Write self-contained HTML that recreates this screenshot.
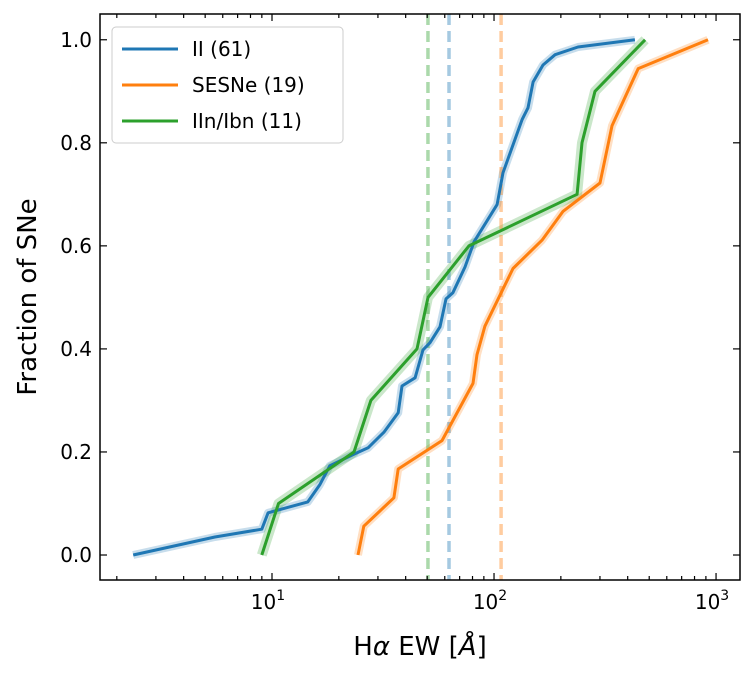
<!DOCTYPE html>
<html><head><meta charset="utf-8"><style>
html,body{margin:0;padding:0;background:#fff;}
svg{display:block;font-family:"DejaVu Sans","Liberation Sans",sans-serif;}
</style></head><body>
<svg id="chart" width="753" height="675" viewBox="0 0 753 675" xmlns="http://www.w3.org/2000/svg">
<g id="bands"></g>
<g id="vlines"></g>
<g id="series"></g>
<g id="axes"></g>
<g id="legend">
<rect x="112" y="27" width="231" height="116" rx="4" fill="#fff" fill-opacity="0.8" stroke="#ccc"/>
<line x1="122" y1="49" x2="178" y2="49" stroke="#1f77b4" stroke-width="3"/>
<text x="192" y="56" font-size="20" fill="#000">II (61)</text>
<line x1="122" y1="85" x2="178" y2="85" stroke="#ff7f0e" stroke-width="3"/>
<text x="192" y="92" font-size="20" fill="#000">SESNe (19)</text>
<line x1="122" y1="121" x2="178" y2="121" stroke="#2ca02c" stroke-width="3"/>
<text x="192" y="128" font-size="20" fill="#000">IIn/Ibn (11)</text>
</g>
<text x="36" y="297" font-size="26" text-anchor="middle" transform="rotate(-90 36 297)">Fraction of SNe</text>
<text x="420" y="655" font-size="26" text-anchor="middle">H<tspan font-style="italic">α</tspan> EW [<tspan font-style="italic">Å</tspan>]</text>
</svg>
<script>
const iiEW = [2.37,5.53,9.0,9.6,14.5,16.4,18.2,22.9,27.1,32.0,37.0,38.5,44.1,47.9,51.5,57.1,60.8,65.3,74.0,81.3,103.2,109.8,133.8,142.3,149.9,166.2,188.4,239,431];
const iiFrac = [0,0.035,0.05,0.082,0.103,0.136,0.173,0.194,0.208,0.239,0.276,0.328,0.344,0.398,0.412,0.443,0.497,0.509,0.559,0.608,0.680,0.742,0.845,0.868,0.918,0.951,0.971,0.986,1.0];
const sesEW = [24.4,25.9,35.4,37.0,58.3,80.4,83.8,91.0,121.8,164.5,204.6,300,340,446,920];
const sesFrac = [0,0.056,0.111,0.167,0.222,0.333,0.389,0.444,0.556,0.611,0.667,0.722,0.833,0.944,1.0];
const iinEW = [9.0,10.7,23.4,27.9,45.0,50.4,77.1,236.6,249,285,479];
const iinFrac = [0,0.1,0.2,0.3,0.4,0.5,0.6,0.7,0.8,0.9,1.0];
const medianEW = [62.7,107.6,50.4];
const xTickVals = [10,100,1000];
const xTickExp = ["1","2","3"];
const yTickVals = [0,0.2,0.4,0.6,0.8,1.0];

const NS="http://www.w3.org/2000/svg";
const L=100,R=740,T=14,B=580;
const xmin=Math.log10(1.68), xmax=Math.log10(1282), ymin=-0.0485, ymax=1.050;
const X=v=>L+(Math.log10(v)-xmin)/(xmax-xmin)*(R-L);
const Y=v=>B-(v-ymin)/(ymax-ymin)*(B-T);
function mk(tag,attrs,parent){const e=document.createElementNS(NS,tag);for(const k in attrs)e.setAttribute(k,attrs[k]);parent.appendChild(e);return e;}
const colors=["#1f77b4","#ff7f0e","#2ca02c"];
const bandsG=document.getElementById('bands'),seriesG=document.getElementById('series'),vG=document.getElementById('vlines'),axG=document.getElementById('axes');
const sets=[[iiEW,iiFrac,'ii'],[sesEW,sesFrac,'sesne'],[iinEW,iinFrac,'iin']];
sets.forEach((s,i)=>{
  const pts=s[0].map((v,j)=>X(v).toFixed(1)+','+Y(s[1][j]).toFixed(1)).join(' ');
  const b=mk('polyline',{points:pts,fill:'none',stroke:colors[i],'stroke-opacity':0.25,'stroke-width':i==2?10:8,'stroke-linejoin':'round'},bandsG);
  
  
  const l=mk('polyline',{points:pts,fill:'none',stroke:colors[i],'stroke-width':3,'stroke-linejoin':'round'},seriesG);
  
  
});
medianEW.forEach((v,i)=>{
  const l=mk('line',{x1:X(v),x2:X(v),y1:T,y2:B,stroke:colors[i],'stroke-opacity':0.4,'stroke-width':3.5,'stroke-dasharray':'11,6'},vG);
  
  
});
const frame=mk('rect',{x:L,y:T,width:R-L,height:B-T,fill:'none',stroke:'#000','stroke-width':1.5},axG);


for(let d=0;d<4;d++)for(let m=1;m<10;m++){
  const v=m*Math.pow(10,d);const x=X(v);if(x<L||x>R)continue;
  const len=m==1?7:4;
  mk('line',{x1:x,x2:x,y1:B,y2:B-len,stroke:'#000','stroke-width':1.2},axG);
  mk('line',{x1:x,x2:x,y1:T,y2:T+len,stroke:'#000','stroke-width':1.2},axG);
}
xTickVals.forEach((v,i)=>{
  const t=mk('text',{x:X(v)-4,y:609,'font-size':20,'text-anchor':'middle'},axG);
  t.textContent='10';
  const s=mk('tspan',{dy:-9,'font-size':14},t);s.textContent=xTickExp[i];
  
  
});
yTickVals.forEach(v=>{
  const y=Y(v);
  mk('line',{x1:L,x2:L+7,y1:y,y2:y,stroke:'#000','stroke-width':1.2},axG);
  mk('line',{x1:R,x2:R-7,y1:y,y2:y,stroke:'#000','stroke-width':1.2},axG);
  const t=mk('text',{x:92,y:y+7,'font-size':20,'text-anchor':'end'},axG);
  t.textContent=v.toFixed(1);
  
  
});
</script>
</body></html>
